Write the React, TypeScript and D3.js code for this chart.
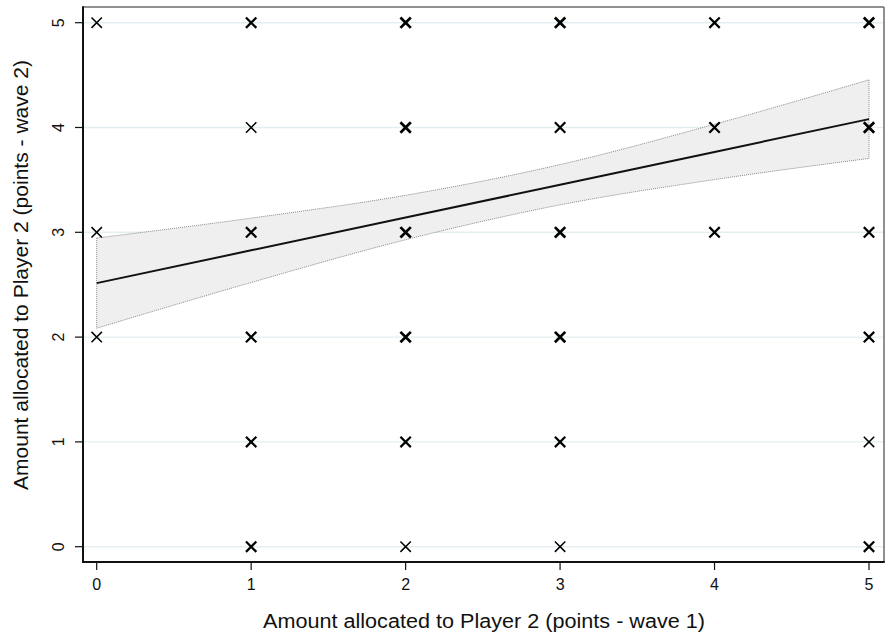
import React from "react";
import * as d3 from "d3";

// Observations: wave-1 allocation (x), wave-2 allocation (y), overlap weight (marker boldness)
const pointX = [0, 1, 2, 3, 4, 5, 1, 2, 3, 4, 5, 0, 1, 2, 3, 4, 5, 0, 1, 2, 3, 5, 1, 2, 3, 5, 1, 2, 3, 5];
const pointY = [5, 5, 5, 5, 5, 5, 4, 4, 4, 4, 4, 3, 3, 3, 3, 3, 3, 2, 2, 2, 2, 2, 1, 1, 1, 1, 0, 0, 0, 0];
const pointW = [1, 2, 3, 3, 2, 3, 1, 3, 2, 2, 3, 1, 2, 3, 3, 2, 2, 1, 2, 3, 3, 2, 2, 2, 2, 1, 2, 1, 1, 2];

// Linear fit and its confidence band
const fitX = [0, 1, 2, 3, 4, 5];
const fitY = [2.515, 2.828, 3.141, 3.454, 3.767, 4.08];
const ciLower = [2.085, 2.521, 2.929, 3.262, 3.503, 3.705];
const ciUpper = [2.945, 3.135, 3.353, 3.646, 4.031, 4.455];

const xTicks = [0, 1, 2, 3, 4, 5];
const yTicks = [0, 1, 2, 3, 4, 5];

const xTitle = "Amount allocated to Player 2 (points - wave 1)";
const yTitle = "Amount allocated to Player 2 (points - wave 2)";

const W = 892;
const H = 639;
const frame = { left: 83, right: 884, top: 7, bottom: 562 };
const FONT = "'Liberation Sans', Arial, Helvetica, sans-serif";

export default function App() {
  const x = d3.scaleLinear().domain([0, 5]).range([96.7, 869]);
  const y = d3.scaleLinear().domain([0, 5]).range([546.7, 22.7]);

  const band = d3
    .area<number>()
    .x((_, i) => x(fitX[i]))
    .y0((_, i) => y(ciLower[i]))
    .y1((_, i) => y(ciUpper[i]))
    .curve(d3.curveMonotoneX)(fitX);

  const lowerLine = d3
    .line<number>()
    .x((_, i) => x(fitX[i]))
    .y((_, i) => y(ciLower[i]))
    .curve(d3.curveMonotoneX)(fitX);
  const upperLine = d3
    .line<number>()
    .x((_, i) => x(fitX[i]))
    .y((_, i) => y(ciUpper[i]))
    .curve(d3.curveMonotoneX)(fitX);
  const fitLine = d3
    .line<number>()
    .x((_, i) => x(fitX[i]))
    .y((_, i) => y(fitY[i]))(fitX);

  const last = fitX.length - 1;
  const r = 5.2;
  const strokeFor = (w: number) => (w === 1 ? 1.5 : w === 2 ? 2.2 : 2.7);

  return (
    <svg
      width={W}
      height={H}
      style={{ position: "absolute", left: 0, top: 0, background: "#fff" }}
      fontFamily={FONT}
    >
      <rect x={0} y={0} width={W} height={H} fill="#fff" />

      {/* horizontal grid */}
      {yTicks.map((t) => (
        <line
          key={"g" + t}
          x1={frame.left}
          x2={frame.right}
          y1={y(t)}
          y2={y(t)}
          stroke="#e4eef1"
          strokeWidth={1.4}
        />
      ))}

      {/* confidence band */}
      <path d={band ?? ""} fill="#efefef" stroke="none" />
      <g fill="none" stroke="#8a8a8a" strokeWidth={1} strokeDasharray="1 1">
        <path d={upperLine ?? ""} />
        <path d={lowerLine ?? ""} />
        <line x1={x(fitX[0])} x2={x(fitX[0])} y1={y(ciUpper[0])} y2={y(ciLower[0])} />
        <line x1={x(fitX[last])} x2={x(fitX[last])} y1={y(ciUpper[last])} y2={y(ciLower[last])} />
      </g>

      {/* fitted line */}
      <path d={fitLine ?? ""} fill="none" stroke="#111" strokeWidth={2} />

      {/* scatter markers */}
      {pointX.map((px, i) => {
        const cx = x(px);
        const cy = y(pointY[i]);
        return (
          <path
            key={"p" + i}
            d={`M${cx - r},${cy - r}L${cx + r},${cy + r}M${cx - r},${cy + r}L${cx + r},${cy - r}`}
            stroke="#000"
            strokeWidth={strokeFor(pointW[i])}
            fill="none"
          />
        );
      })}

      {/* frame */}
      <line x1={frame.left} x2={frame.right} y1={frame.top} y2={frame.top} stroke="#6b6b6b" strokeWidth={1.5} />
      <line x1={frame.right} x2={frame.right} y1={frame.top} y2={frame.bottom} stroke="#6b6b6b" strokeWidth={1.5} />
      <line x1={frame.left} x2={frame.left} y1={frame.top - 0.75} y2={frame.bottom + 1} stroke="#111" strokeWidth={2} />
      <line x1={frame.left - 1} x2={frame.right + 0.75} y1={frame.bottom} y2={frame.bottom} stroke="#111" strokeWidth={2} />

      {/* x axis ticks */}
      {xTicks.map((t) => (
        <g key={"xt" + t}>
          <line x1={x(t)} x2={x(t)} y1={frame.bottom} y2={frame.bottom + 8} stroke="#111" strokeWidth={1.2} />
          <text x={x(t)} y={590} textAnchor="middle" fontSize={16} fill="#111">
            {t}
          </text>
        </g>
      ))}

      {/* y axis ticks */}
      {yTicks.map((t) => (
        <g key={"yt" + t}>
          <line x1={frame.left - 8} x2={frame.left} y1={y(t)} y2={y(t)} stroke="#111" strokeWidth={1.2} />
          <text
            transform={`translate(64,${y(t)}) rotate(-90)`}
            textAnchor="middle"
            fontSize={16}
            fill="#111"
          >
            {t}
          </text>
        </g>
      ))}

      {/* axis titles */}
      <text
        x={484}
        y={628}
        textAnchor="middle"
        fontSize={20}
        fill="#111"
        textLength={442}
        lengthAdjust="spacingAndGlyphs"
      >
        {xTitle}
      </text>
      <text
        transform={`translate(28,275) rotate(-90)`}
        textAnchor="middle"
        fontSize={20}
        fill="#111"
        textLength={430}
        lengthAdjust="spacingAndGlyphs"
      >
        {yTitle}
      </text>
    </svg>
  );
}
